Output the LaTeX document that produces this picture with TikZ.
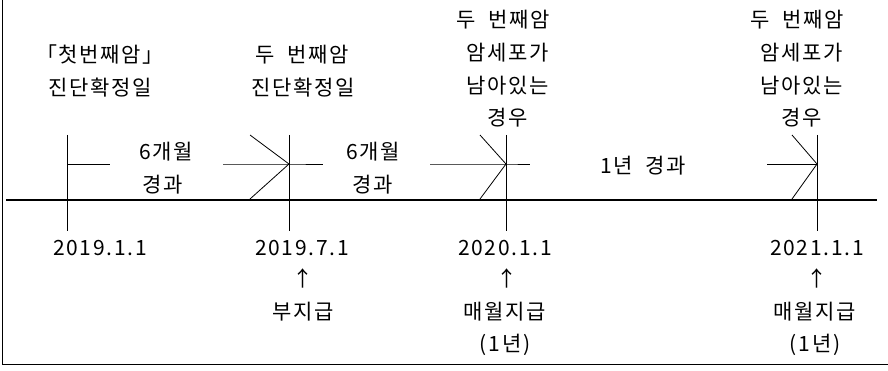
\documentclass[tikz,border=0pt]{standalone}
\usepackage{fontspec}
\setmainfont{Noto Sans CJK KR}[LetterSpace=8]
\newcommand{\wsp}{\hspace{0.6em}}
\begin{document}
\begin{tikzpicture}[x=1pt,y=-1pt,
  lbl/.style={inner sep=0pt, anchor=center, font=\fontsize{21}{25}\selectfont},
  thin/.style={line width=0.8pt, black},
  axis/.style={line width=1.1pt, black},
  frame/.style={line width=1.8pt, black}]
\useasboundingbox (0,0) rectangle (888,371);
% frame (left and bottom only)
\coordinate (fTop) at (2.5,0);
\coordinate (fCorner) at (2.5,364.5);
\coordinate (fRight) at (888,364.5);
\draw[frame] (fTop) -- (fCorner) -- (fRight);
% main axis
\coordinate (axL) at (6,200);
\coordinate (axR) at (877,200);
\draw[axis] (axL) -- (axR);
% ticks
\foreach \n/\x in {1/67,2/289,3/506,4/817}{
  \coordinate (t\n top) at (\x,135);
  \coordinate (t\n mid) at (\x,164);
  \coordinate (t\n bot) at (\x,231);
  \draw[thin] (t\n top) -- (t\n bot);
}
% segment 1
\coordinate (s1e) at (110,164);
\draw[thin] (t1mid) -- (s1e);
% arrow into tick 2
\coordinate (a2h) at (223,164);
\coordinate (a2u) at (250,135);
\coordinate (a2d) at (250,199);
\coordinate (a2o) at (323,164);
\draw[thin] (a2h) -- (t2mid) -- (a2o);
\draw[thin] (a2u) -- (t2mid) -- (a2d);
% arrow into tick 3
\coordinate (a3h) at (430,164);
\coordinate (a3u) at (480,135);
\coordinate (a3d) at (480,199);
\coordinate (a3o) at (530,164);
\draw[thin] (a3h) -- (t3mid) -- (a3o);
\draw[thin] (a3u) -- (t3mid) -- (a3d);
% arrow into tick 4
\coordinate (a4h) at (767,164);
\coordinate (a4u) at (792,135);
\coordinate (a4d) at (792,199);
\draw[thin] (a4h) -- (t4mid);
\draw[thin] (a4u) -- (t4mid) -- (a4d);
% top labels
\node[lbl] (c1a) at (100,55) {「첫번째암」};
\node[lbl] (c1b) at (100,88) {진단확정일};
\node[lbl] (c2a) at (302,55) {두\wsp 번째암};
\node[lbl] (c2b) at (303,88) {진단확정일};
\node[lbl] (c3a) at (503,20) {두\wsp 번째암};
\node[lbl] (c3b) at (508,53) {암세포가};
\node[lbl] (c3c) at (508,86) {남아있는};
\node[lbl] (c3d) at (508,118) {경우};
\node[lbl] (c4a) at (797,20) {두\wsp 번째암};
\node[lbl] (c4b) at (802,53) {암세포가};
\node[lbl] (c4c) at (802,86) {남아있는};
\node[lbl] (c4d) at (802,118) {경우};
% interval labels
\node[lbl] (i1a) at (166,152) {6개월};
\node[lbl] (i1b) at (163,185) {경과};
\node[lbl] (i2a) at (373,152) {6개월};
\node[lbl] (i2b) at (373,185) {경과};
\node[lbl] (i3) at (643,166) {1년\wsp 경과};
% bottom labels
\node[lbl] (d1) at (100,248) {2019.1.1};
\node[lbl] (d2) at (302,248) {2019.7.1};
\node[lbl] (u2) at (303,278) {↑};
\node[lbl] (p2) at (303,312) {부지급};
\node[lbl] (d3) at (505,248) {2020.1.1};
\node[lbl] (u3) at (507,278) {↑};
\node[lbl] (p3) at (505,312) {매월지급};
\node[lbl] (q3) at (505,345) {(1년)};
\node[lbl] (d4) at (817,248) {2021.1.1};
\node[lbl] (u4) at (817,278) {↑};
\node[lbl] (p4) at (815,312) {매월지급};
\node[lbl] (q4) at (815,345) {(1년)};
\end{tikzpicture}
\end{document}
